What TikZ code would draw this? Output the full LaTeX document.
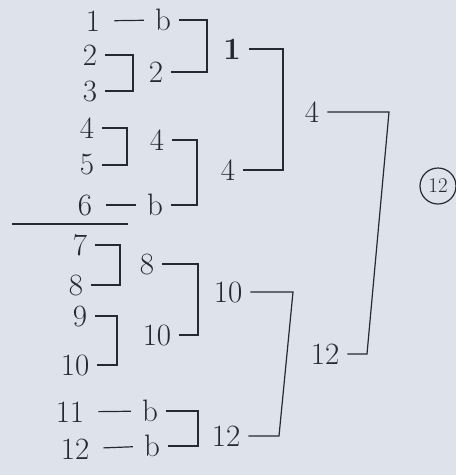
\documentclass[tikz,border=0pt]{standalone}
\definecolor{paper}{RGB}{222,226,235}
\definecolor{ink}{RGB}{40,40,50}
\begin{document}
\begin{tikzpicture}[x=1pt,y=-1pt,
  num/.style={text=ink,font=\fontsize{31}{33}\selectfont,inner xsep=8pt,inner ysep=3pt},
  wire/.style={draw=ink,line width=1.2pt},
  byeline/.style={wire,shorten <=6pt,shorten >=3pt}]
\fill[paper] (0,0) rectangle (456,475);
\useasboundingbox (0,0) rectangle (456,475);
% entries
\node[num] (e1) at (93,21) {1};
\node[num] (b1) at (163,20) {b};
\node[num] (e2) at (90,55) {2};
\node[num] (e3) at (90,91) {3};
\node[num] (e4) at (87,128) {4};
\node[num] (e5) at (87,165) {5};
\node[num] (e6) at (85,205) {6};
\node[num] (b6) at (155,205) {b};
\node[num] (e7) at (80,245) {7};
\node[num] (e8) at (76,285) {8};
\node[num] (e9) at (80,316) {9};
\node[num] (e10) at (75,365) {10};
\node[num] (e11) at (70,412) {11};
\node[num] (b11) at (150,411) {b};
\node[num] (e12) at (75,449) {12};
\node[num] (b12) at (152,446) {b};
% round 2
\node[num] (w23) at (156,72) {2};
\node[num] (w45) at (157,140) {4};
\node[num] (w78) at (147,264) {8};
\node[num] (w910) at (157,335) {10};
% round 3
\node[num,font=\fontsize{31}{33}\selectfont\bfseries] (r1) at (232,49) {1};
\node[num] (r2) at (228,170) {4};
\node[num] (r3) at (228,292) {10};
\node[num] (r4) at (226,436) {12};
% round 4
\node[num] (s1) at (312,112) {4};
\node[num] (s2) at (325,354) {12};
% winner
\node[circle,draw=ink,line width=1.2pt,text=ink,inner sep=1pt,minimum size=36pt,
  font=\fontsize{21}{22}\selectfont] (win) at (438,186) {12};
% bracket verticals
\coordinate (k1) at (207,0);
\coordinate (k23) at (133,0);
\coordinate (k45) at (127,0);
\coordinate (k2) at (197,0);
\coordinate (k78) at (120,0);
\coordinate (k910) at (117,0);
\coordinate (k3) at (198,0);
\coordinate (k4) at (198,0);
\coordinate (m1) at (283,0);
\coordinate (m2a) at (293,0);
\coordinate (m2b) at (279,0);
\coordinate (fa) at (389,0);
\coordinate (fb) at (367,0);
% byes
\draw[byeline] (e1) -- (b1);
\draw[byeline] (e6) -- (b6);
\draw[byeline] (e11) -- (b11);
\draw[byeline] (e12) -- (b12);
% round 1 brackets
\draw[wire] (e2.east) -- (e2.east -| k23) -- (e3.east -| k23) -- (e3.east);
\draw[wire] (e4.east) -- (e4.east -| k45) -- (e5.east -| k45) -- (e5.east);
\draw[wire] (e7.east) -- (e7.east -| k78) -- (e8.east -| k78) -- (e8.east);
\draw[wire] (e9.east) -- (e9.east -| k910) -- (e10.east -| k910) -- (e10.east);
% round 2 brackets
\draw[wire] (b1.east) -- (b1.east -| k1) -- (w23.east -| k1) -- (w23.east);
\draw[wire] (w45.east) -- (w45.east -| k2) -- (b6.east -| k2) -- (b6.east);
\draw[wire] (w78.east) -- (w78.east -| k3) -- (w910.east -| k3) -- (w910.east);
\draw[wire] (b11.east) -- (b11.east -| k4) -- (b12.east -| k4) -- (b12.east);
% round 3 brackets
\draw[wire] (r1.east) -- (r1.east -| m1) -- (r2.east -| m1) -- (r2.east);
\draw[wire] (r3.east) -- (r3.east -| m2a) -- (r4.east -| m2b) -- (r4.east);
% final bracket
\draw[wire] (s1.east) -- (s1.east -| fa) -- (s2.east -| fb) -- (s2.east);
% separator
\coordinate (sepa) at (12,224);
\coordinate (sepb) at (128,224);
\draw[wire] (sepa) -- (sepb);
\end{tikzpicture}
\end{document}
